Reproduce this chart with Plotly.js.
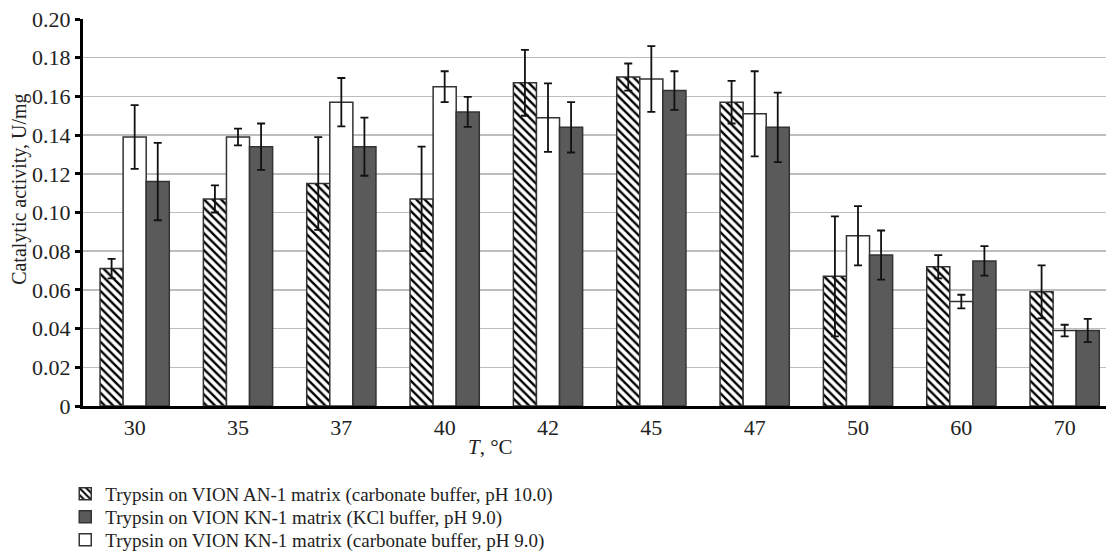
<!DOCTYPE html>
<html>
<head>
<meta charset="utf-8">
<script src="https://cdn.plot.ly/plotly-3.0.1.min.js"></script>
<style>html,body{margin:0;padding:0;overflow:hidden;background:#fff}</style>
</head>
<body>
<div id="chart" style="width:1106px;height:553px"></div>
<script>
const categories = ["30", "35", "37", "40", "42", "45", "47", "50", "60", "70"];
const anCarbValues = [0.071, 0.107, 0.115, 0.107, 0.167, 0.170, 0.157, 0.067, 0.072, 0.059];
const anCarbErrors = [0.005, 0.007, 0.024, 0.027, 0.017, 0.007, 0.011, 0.031, 0.006, 0.0137];
const knCarbValues = [0.139, 0.139, 0.157, 0.165, 0.149, 0.169, 0.151, 0.088, 0.054, 0.039];
const knCarbErrors = [0.0165, 0.0043, 0.0125, 0.008, 0.0177, 0.017, 0.022, 0.0153, 0.0035, 0.003];
const knKclValues = [0.116, 0.134, 0.134, 0.152, 0.144, 0.163, 0.144, 0.078, 0.075, 0.039];
const knKclErrors = [0.020, 0.012, 0.015, 0.0078, 0.013, 0.010, 0.018, 0.0127, 0.0076, 0.006];
const seriesNames = [
  "Trypsin on VION AN-1 matrix (carbonate buffer, pH 10.0)",
  "Trypsin on VION KN-1 matrix (KCl buffer, pH 9.0)",
  "Trypsin on VION KN-1 matrix (carbonate buffer, pH 9.0)"
];
const yTickVals = [0, 0.02, 0.04, 0.06, 0.08, 0.10, 0.12, 0.14, 0.16, 0.18, 0.20];
const yTickText = ["0", "0.02", "0.04", "0.06", "0.08", "0.10", "0.12", "0.14", "0.16", "0.18", "0.20"];

const font = "Liberation Serif";
const errStyle = (arr) => ({type: "data", array: arr, visible: true, color: "#111", thickness: 1.8, width: 4});
const outline = {color: "#333", width: 1.5};

const traces = [
  {
    type: "bar", name: seriesNames[0], x: categories, y: anCarbValues,
    error_y: errStyle(anCarbErrors), legend: "legend",
    marker: {color: "#fff", line: outline,
      pattern: {shape: "\\", fgcolor: "#000", bgcolor: "#fff", size: 6, solidity: 0.4}}
  },
  {
    type: "bar", name: seriesNames[2], x: categories, y: knCarbValues,
    error_y: errStyle(knCarbErrors), legend: "legend3",
    marker: {color: "#fff", line: outline}
  },
  {
    type: "bar", name: seriesNames[1], x: categories, y: knKclValues,
    error_y: errStyle(knKclErrors), legend: "legend2",
    marker: {color: "#5a5a5a", line: outline}
  }
];

const legendBase = (yc) => ({
  orientation: "v", xref: "container", yref: "container",
  x: 0.059, xanchor: "left", y: yc, yanchor: "middle",
  font: {family: font, size: 19, color: "#222"},
  bgcolor: "rgba(0,0,0,0)", borderwidth: 0
});

const layout = {
  width: 1106, height: 553,
  margin: {l: 83, r: 0, t: 19, b: 147, autoexpand: false},
  paper_bgcolor: "#fff", plot_bgcolor: "#fff",
  font: {family: font, size: 20, color: "#222"},
  barmode: "group", bargap: 0.33, bargroupgap: 0,
  showlegend: true,
  legend: legendBase(0.1067),
  legend2: legendBase(0.0651),
  legend3: legendBase(0.0235),
  xaxis: {
    type: "category", range: [-0.5, 9.4],
    showline: true, linecolor: "#000", linewidth: 3,
    ticks: "", showgrid: false, zeroline: false,
    tickfont: {family: font, size: 22, color: "#222"}
  },
  yaxis: {
    range: [0, 0.2], tickvals: yTickVals, ticktext: yTickText,
    showline: true, linecolor: "#000", linewidth: 3,
    ticks: "outside", ticklen: 5, tickwidth: 3, tickcolor: "#000",
    showgrid: true, gridcolor: "#bdbdbd", gridwidth: 1.5,
    zeroline: false,
    tickfont: {family: font, size: 22, color: "#222"}
  },
  annotations: [
    {text: "<i>T</i>, °C", xref: "paper", yref: "paper", x: 0.398, y: -0.107,
     xanchor: "center", yanchor: "middle", showarrow: false,
     font: {family: font, size: 21, color: "#222"}},
    {text: "Catalytic activity, U/mg", xref: "paper", yref: "paper", x: -0.062, y: 0.56,
     xanchor: "center", yanchor: "middle", textangle: -90, showarrow: false,
     font: {family: font, size: 20, color: "#222"}}
  ]
};

Plotly.newPlot("chart", traces, layout, {displayModeBar: false, staticPlot: true});
</script>
</body>
</html>
